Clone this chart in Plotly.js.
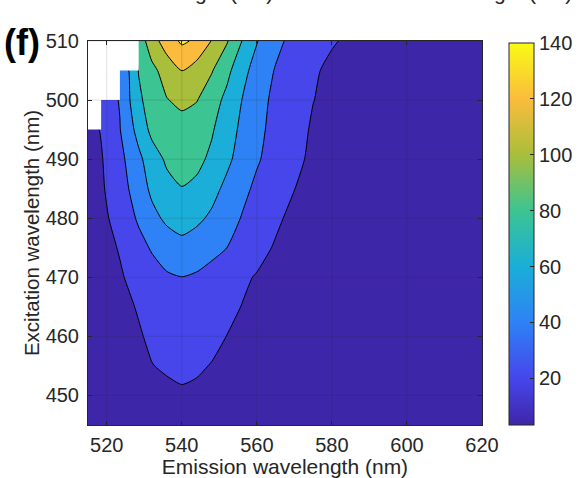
<!DOCTYPE html>
<html><head><meta charset="utf-8">
<script src="https://cdn.plot.ly/plotly-3.0.1.min.js"></script>
<style>html,body{margin:0;padding:0;background:#fff;}#chart{width:580px;height:478px;}</style>
</head><body><div id="chart"></div>
<script>
// ---- data ----
const emission = [513.5, 518.5, 523.5, 528.5, 532, 536, 540, 544, 548, 552, 556, 560, 565, 570, 575, 580, 590, 600, 610, 620];
const excitation = [445, 450, 455, 460, 465, 470, 475, 480, 485, 490, 495, 500, 505, 510];
const intensity = [
  [3.3, 4.5, 6, 8, 10, 11.5, 12.5, 12, 11, 9.5, 8.5, 7.5, 6.5, 5.8, 5.2, 4.8, 4.2, 3.8, 3.5, 3.3],
  [3.8, 6, 8.5, 11.5, 14, 16.5, 18, 17, 15, 13, 11, 9.5, 8, 7, 6, 5.3, 4.5, 4, 3.6, 3.4],
  [4, 7.5, 11, 15, 19.6, 21.8, 23.4, 22, 19.3, 16.5, 14, 12, 10, 8.5, 7, 6.2, 5, 4.2, 3.8, 3.5],
  [4.5, 9.2, 13.9, 18.6, 22.5, 26.5, 28.9, 27, 24, 19.8, 16.5, 14, 11.5, 9.5, 8, 7, 5.5, 4.5, 4, 3.6],
  [5, 10.3, 15.6, 21.2, 26.5, 31.5, 34.4, 31.5, 28, 24.5, 19.6, 16.5, 13.5, 11, 9, 8, 6, 5, 4.2, 3.8],
  [6, 12.1, 18.2, 26, 32, 37.5, 39.7, 37.5, 33, 28, 23.3, 18.6, 15, 12, 10, 8.5, 6.5, 5, 4.3, 4],
  [7, 13.8, 21.2, 33.6, 41.8, 50, 54.9, 51, 45.5, 40, 33.3, 26.6, 18.1, 13.5, 11, 9.5, 7, 5.5, 4.5, 4],
  [8, 15.5, 26.5, 42.7, 54.6, 63.5, 67, 63.5, 56.9, 47.9, 39.1, 32.2, 23.5, 14.8, 12, 10, 7.5, 5.5, 4.5, 4],
  [9, 17.5, 30.9, 50.2, 63.8, 74, 79.5, 76, 65.8, 55.5, 44.8, 36.4, 28.2, 20.2, 16, 12.5, 8.5, 6, 5, 4.2],
  [10, 18.6, 34.5, 55.5, 70.6, 83, 86, 84.5, 76.3, 64, 52.7, 41.9, 32.8, 24.5, 16.2, 13, 9, 6.5, 5, 4.5],
  [12, 21, 39.3, 66.9, 85, 90, 93, 90, 81.8, 69.1, 56, 44.6, 34.4, 26.2, 18, 14, 9.5, 7, 5.5, 4.5],
  [null, 30, 41, 76.4, 88.4, 99.2, 104, 100.7, 89, 74.8, 60, 47.1, 35.6, 27.8, 20.3, 16, 10, 7, 5.5, 4.5],
  [null, null, 41, 80.8, 94.8, 108.3, 120.5, 110.9, 101.2, 85.4, 66.5, 52.2, 38.7, 30.9, 23, 15.1, 10, 7, 5.5, 4.5],
  [null, null, null, 88, 111, 130, 143, 137, 119, 101.7, 80, 61, 45, 34, 28, 22, 10.2, 7, 5.5, 4.5]
];
const levels = [20, 40, 60, 80, 100, 120, 140];
const xTicks = [520, 540, 560, 580, 600, 620];
const yTicks = [450, 460, 470, 480, 490, 500, 510];
const cbTicks = [20, 40, 60, 80, 100, 120, 140];
const xTitle = 'Emission wavelength (nm)';
const yTitle = 'Excitation wavelength (nm)';
const panelLabel = '(f)';
const topFragment = 'Emission wavelength (nm)';

// ---- styles ----
const FONT = 'Liberation Sans, Arial, Helvetica, sans-serif';
const TXT = '#262626';
const bandColors = ['#3e26a8', '#4646eb', '#2e82f5', '#1aaed8', '#3cc492', '#a9be3b', '#fbbc3d', '#f9fb15'];

const nb = bandColors.length - 1;
const fillScale = bandColors.map((c, k) => [k / nb, c]);

const allVals = intensity.flat().filter(v => v !== null);
const zMin = Math.min(...allVals);
const cbMax = cbTicks[cbTicks.length - 1];
const cbScale = [[0, bandColors[0]]].concat(levels.map((L, k) => [(L - zMin) / (cbMax - zMin), bandColors[k + 1]]));
cbScale[cbScale.length - 1][0] = 1;

// ---- blank (NaN) region: cells touching a missing value ----
const isNull = (i, j) => intensity[i][j] === null;
const edges = [];
for (let i = 0; i < excitation.length - 1; i++) {
  let last = -1;
  for (let j = 0; j < emission.length - 1; j++) {
    if (isNull(i, j) || isNull(i, j + 1) || isNull(i + 1, j) || isNull(i + 1, j + 1)) last = j;
  }
  if (last >= 0) edges.push({i: i, right: emission[last + 1]});
}
const polyX = [], polyY = [];
if (edges.length) {
  edges.sort((a, b) => b.i - a.i);
  polyX.push(emission[0]); polyY.push(excitation[edges[0].i + 1]);
  edges.forEach(e => {
    polyX.push(e.right); polyY.push(excitation[e.i + 1]);
    polyX.push(e.right); polyY.push(excitation[e.i]);
  });
  polyX.push(emission[0]); polyY.push(excitation[edges[edges.length - 1].i]);
  polyX.push(emission[0]); polyY.push(excitation[edges[0].i + 1]);
}

const traces = [
  {
    type: 'contour', x: emission, y: excitation, z: intensity,
    autocontour: false,
    contours: {start: levels[0], end: levels[levels.length - 1], size: levels[1] - levels[0], coloring: 'fill', showlines: true},
    line: {color: '#000000', width: 1, smoothing: 0.6},
    colorscale: fillScale, showscale: false, hoverinfo: 'skip', connectgaps: true
  },
  {
    type: 'scatter', mode: 'lines', x: polyX, y: polyY, fill: 'toself', fillcolor: '#ffffff',
    line: {width: 0, color: '#ffffff'}, hoverinfo: 'skip', showlegend: false
  },
  {
    type: 'scatter', mode: 'markers', x: [null, null], y: [null, null], showlegend: false, hoverinfo: 'skip',
    marker: {
      color: [zMin, cbMax], cmin: zMin, cmax: cbMax, colorscale: cbScale, showscale: true,
      colorbar: {
        x: 1.0693, xanchor: 'left', xpad: 0, ypad: 0,
        y: 0, yanchor: 'bottom', len: 0.9956, lenmode: 'fraction',
        thickness: 25, thicknessmode: 'pixels',
        outlinewidth: 1, outlinecolor: TXT,
        ticks: 'inside', ticklen: 4, tickcolor: TXT, tickwidth: 1,
        tickvals: cbTicks, ticktext: cbTicks.map(String),
        tickfont: {family: FONT, size: 20, color: TXT}
      }
    }
  }
];

const shapes = [];
xTicks.forEach(v => shapes.push({type: 'line', xref: 'x', yref: 'paper', x0: v, x1: v, y0: 0, y1: 1, layer: 'above', line: {color: 'rgba(38,38,38,0.15)', width: 1}}));
yTicks.forEach(v => shapes.push({type: 'line', xref: 'paper', yref: 'y', x0: 0, x1: 1, y0: v, y1: v, layer: 'above', line: {color: 'rgba(38,38,38,0.15)', width: 1}}));

const axisCommon = {
  showgrid: false, zeroline: false, showline: true, mirror: 'ticks', linecolor: TXT, linewidth: 1,
  ticks: 'inside', ticklen: 4, tickcolor: TXT, tickwidth: 1, layer: 'above traces',
  tickfont: {family: FONT, size: 20, color: TXT}
};

const layout = {
  width: 580, height: 478,
  margin: {l: 88, r: 98, t: 41, b: 53, pad: 0, autoexpand: false},
  paper_bgcolor: '#ffffff', plot_bgcolor: '#ffffff',
  showlegend: false,
  xaxis: Object.assign({}, axisCommon, {
    range: [515, 620], tickvals: xTicks, ticktext: xTicks.map(String),
    title: {text: xTitle, font: {family: FONT, size: 21, color: TXT}, standoff: 6},
    ticklabelstandoff: 2
  }),
  yaxis: Object.assign({}, axisCommon, {
    range: [445, 510], tickvals: yTicks, ticktext: yTicks.map(String),
    title: {text: yTitle, font: {family: FONT, size: 20.5, color: TXT}, standoff: 0},
    ticklabelstandoff: 4
  }),
  shapes: shapes,
  annotations: [
    {text: '<b>' + panelLabel + '</b>', xref: 'paper', yref: 'paper', x: -0.2185, y: 0.995, xanchor: 'left', yanchor: 'middle',
     showarrow: false, font: {family: FONT, size: 36, color: '#000000'}},
    {text: topFragment, xref: 'paper', yref: 'paper', x: 0.4754, y: 1.1258, xanchor: 'right', yanchor: 'middle',
     showarrow: false, font: {family: FONT, size: 21, color: TXT}},
    {text: topFragment, xref: 'paper', yref: 'paper', x: 1.2325, y: 1.1258, xanchor: 'right', yanchor: 'middle',
     showarrow: false, font: {family: FONT, size: 21, color: TXT}}
  ]
};

Plotly.newPlot('chart', traces, layout, {displayModeBar: false, staticPlot: true});
</script>
</body></html>
